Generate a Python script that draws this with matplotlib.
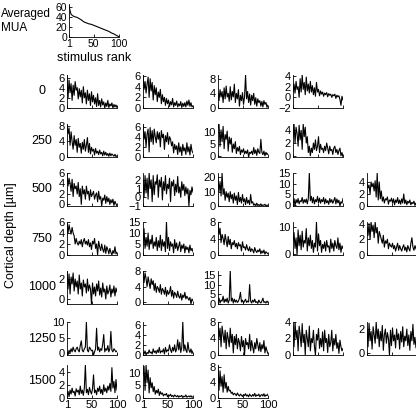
import numpy as np
import matplotlib
matplotlib.use("Agg")
import matplotlib.pyplot as plt

plt.rcParams['font.family'] = ['Liberation Sans', 'DejaVu Sans']

# averaged MUA vs stimulus rank
avg_rank = [1, 3, 5, 8, 12, 16, 20, 25, 30, 35, 40, 45, 50, 55, 60, 65, 70, 75, 80, 85, 90, 95, 100]
avg_mua = [62, 52, 45, 42, 40, 39, 37, 34, 30, 28, 26, 25, 23, 21, 19, 17, 15, 13, 11, 8, 6, 3, 0.5]

depths = ["0", "250", "500", "750", "1000", "1250", "1500"]

# depth 0
d0_1 = [6.5,2.0,5.5,3.0,4.8,1.5,4.5,2.5,5.2,3.5,4.0,1.8,3.8,2.2,3.5,1.0,4.2,2.0,3.0,0.8,3.5,1.5,2.8,0.5,3.2,1.2,2.5,0.8,2.0,0.3,2.8,0.5,1.5,0.2,1.8,0.6,1.2,0.0,1.0,0.3,1.5,0.1,0.8,0.4,1.0,0.0,0.7,0.2,0.6,0.1]
d0_2 = [6.2,3.5,5.0,2.8,4.5,5.8,2.0,5.5,3.2,4.8,1.5,4.2,2.5,3.8,1.2,3.0,2.0,3.5,0.8,2.5,1.2,2.0,0.5,1.8,0.8,1.5,0.3,1.2,0.6,1.8,0.2,1.0,0.5,1.3,0.2,0.8,0.4,1.2,0.1,0.9,0.3,1.0,0.2,1.3,0.5,1.5,0.3,1.0,0.2,0.4]
d0_3 = [4.0,2.0,5.0,3.0,4.5,1.5,5.5,2.5,6.0,3.0,4.0,1.8,5.8,2.2,4.5,3.0,6.5,1.5,4.0,2.5,5.0,0.5,3.5,2.0,4.2,1.0,3.0,9.0,2.5,4.5,1.5,3.8,0.8,3.5,2.0,4.0,1.0,2.8,0.5,2.5,1.5,2.0,0.5,1.8,0.3,2.0,1.0,1.5,0.2,0.8]
d0_4 = [1.0,2.5,0.8,3.0,1.5,2.0,0.0,3.5,1.0,4.2,1.5,2.8,0.5,3.8,1.2,2.5,0.8,3.0,1.0,2.2,0.5,1.8,0.2,2.8,1.0,1.5,0.3,1.2,0.6,1.0,0.2,0.8,0.5,0.9,0.1,0.7,0.4,0.6,0.0,0.5,0.3,0.6,-0.2,0.4,0.1,0.3,-0.4,-1.5,0.2,-0.5]
# depth 250
d250_1 = [8.5,6.0,7.5,3.0,6.5,4.0,2.0,5.5,3.0,4.5,1.2,4.8,2.5,3.5,1.0,3.8,2.0,4.5,1.5,3.0,5.0,1.2,3.5,0.8,2.5,1.5,2.0,0.5,2.2,1.0,1.5,0.6,1.8,0.8,1.2,0.3,1.5,0.5,1.2,0.4,0.9,0.2,1.0,0.3,0.8,0.5,0.2,0.7,0.1,0.3]
d250_2 = [6.5,3.5,5.0,2.0,4.5,5.5,1.0,5.8,3.0,5.2,2.5,5.5,4.0,2.8,5.0,3.5,4.8,2.0,5.2,3.8,4.5,1.5,4.2,3.0,4.8,2.5,4.0,3.5,2.2,3.0,0.8,2.5,1.5,2.2,0.5,2.8,1.0,2.0,0.3,2.5,1.2,1.8,0.5,2.8,1.0,2.0,0.4,2.5,1.2,0.8]
d250_3 = [12.0,13.5,4.0,11.0,6.0,12.5,3.0,9.0,7.0,10.5,2.0,8.0,5.0,7.5,1.5,5.0,3.0,6.0,1.0,3.5,2.0,4.0,0.5,2.5,1.5,3.0,0.8,2.0,1.0,2.5,-0.5,1.5,1.0,2.0,0.5,3.5,1.0,2.5,0.2,3.0,1.5,1.0,7.0,1.5,0.5,2.0,0.0,1.5,0.5,1.0]
d250_4 = [3.0,5.0,2.0,4.5,3.5,1.5,4.8,2.5,4.0,1.0,5.0,3.0,4.5,2.0,3.0,0.5,1.5,0.0,1.2,0.5,2.0,1.0,2.5,0.8,1.5,3.0,0.5,1.8,1.0,1.2,0.5,1.5,0.8,2.0,1.2,0.3,1.5,0.8,1.0,0.2,1.2,1.5,0.5,1.0,0.2,0.8,1.2,0.0,0.5,-0.2]
# depth 500
d500_1 = [6.0,3.5,5.0,4.0,2.5,4.8,1.5,4.0,3.0,3.5,2.0,4.2,1.5,3.0,0.0,3.5,2.0,2.8,1.0,3.5,2.0,2.5,0.8,2.8,1.5,2.0,2.5,1.0,1.8,2.2,0.5,2.5,1.0,1.5,-0.3,1.2,0.8,1.8,0.2,1.5,0.5,1.2,0.0,0.9,0.3,1.0,-0.2,0.6,0.1,-0.3]
d500_2 = [2.0,0.0,2.5,0.5,2.2,-0.2,2.8,1.0,2.0,-0.5,2.5,0.3,1.8,1.5,2.6,0.0,2.0,1.2,2.3,-0.3,1.8,0.8,2.5,0.4,1.5,1.0,2.2,-0.5,1.8,1.3,2.0,0.2,1.5,0.6,2.4,0.5,1.2,0.0,1.8,0.8,1.5,0.2,1.2,0.4,1.0,-1.0,0.8,0.3,1.2,0.6]
d500_3 = [20.0,10.0,17.0,7.0,23.0,8.0,12.0,4.0,10.0,6.0,9.0,3.0,10.0,5.0,8.0,2.0,9.0,4.0,7.0,1.0,9.5,3.0,6.0,2.0,8.0,3.0,5.0,1.0,6.0,2.0,4.0,1.0,8.0,2.0,3.0,0.5,1.5,0.0,2.0,0.3,1.0,0.2,1.5,0.0,0.8,0.5,1.2,0.0,0.6,0.4]
d500_4 = [0.5,3.0,-0.5,2.5,1.0,3.0,0.5,2.0,1.5,3.5,0.8,2.5,1.2,2.8,0.5,3.0,15.0,2.0,4.0,1.0,3.5,0.5,2.5,1.5,4.0,1.0,3.2,0.8,2.5,1.5,3.5,0.5,2.8,1.0,2.0,0.3,3.0,1.2,2.5,0.8,2.0,3.5,0.5,2.8,1.0,2.2,-0.5,1.5,0.8,3.0]
d500_5 = [4.0,3.0,3.5,2.0,4.0,3.2,3.8,2.5,4.2,1.5,5.5,1.0,4.0,1.2,2.5,0.8,1.5,0.5,1.2,1.0,1.5,0.3,1.0,0.8,1.3,0.5,1.2,0.2,1.0,0.6,1.4,0.4,1.0,0.3,1.2,0.5,2.0,0.4,1.0,0.2,0.8,0.5,1.0,0.2,0.6,0.4,0.8,0.1,0.5,0.3]
# depth 750
d750_1 = [6.0,4.0,5.5,4.5,3.8,5.0,4.0,3.5,2.0,3.0,2.2,1.8,2.5,2.0,2.8,1.5,2.5,3.0,2.0,2.5,1.8,2.8,1.5,2.2,1.0,2.5,2.0,3.0,1.2,2.0,0.0,2.5,1.5,0.8,2.0,1.0,0.5,1.8,0.3,1.5,1.0,0.2,1.2,0.5,0.0,0.8,0.3,1.5,0.2,0.5]
d750_2 = [5.0,12.0,3.0,8.0,4.0,10.0,2.5,7.0,5.0,9.0,3.0,6.0,4.0,8.0,2.0,6.5,3.5,9.0,2.0,7.0,4.0,6.0,1.5,15.0,3.0,8.0,2.0,6.0,4.0,5.0,1.0,7.0,3.0,5.5,2.0,4.0,6.0,1.5,4.5,3.0,5.0,1.0,4.0,2.5,3.5,1.0,4.5,2.0,3.0,1.5]
d750_3 = [8.0,5.0,6.5,3.0,5.0,4.0,2.5,5.0,3.5,2.0,4.5,2.5,3.8,1.5,3.0,2.5,3.5,2.0,2.8,1.5,3.0,2.2,2.5,1.0,3.2,1.8,2.0,1.2,2.5,1.5,1.0,2.0,0.8,1.5,1.2,0.5,1.8,1.0,0.6,1.2,0.8,1.5,0.3,1.0,0.5,1.2,0.2,0.8,0.5,0.3]
d750_4 = [5.0,8.0,2.0,6.0,-0.5,9.0,3.0,7.0,1.5,8.5,2.5,5.0,4.0,9.5,1.0,6.0,3.0,7.0,2.0,5.0,0.5,4.0,2.5,12.0,1.0,7.5,3.0,5.0,0.5,3.5,2.0,4.5,1.0,5.0,2.5,3.0,0.5,5.5,2.0,4.0,1.0,5.0,3.0,2.0,6.0,1.5,4.0,0.5,3.0,2.0]
d750_5 = [3.5,2.5,4.0,2.0,4.2,3.0,3.8,2.2,4.2,2.8,3.5,1.5,3.0,2.5,2.0,1.5,2.5,1.0,1.8,1.5,2.0,0.8,1.5,1.2,1.0,1.5,0.8,1.2,0.5,1.0,1.5,0.6,1.2,0.8,0.5,1.0,1.3,0.6,1.0,0.4,1.2,0.8,0.5,1.5,2.2,1.0,0.6,1.2,0.8,0.5]
# depth 1000
d1000_1 = [2.8,1.0,2.5,0.5,2.2,1.5,2.6,0.8,2.0,1.2,1.8,0.5,2.4,1.0,1.6,0.3,1.9,1.2,1.5,0.6,2.0,0.8,1.4,1.0,-0.5,1.6,0.5,1.2,0.3,1.5,0.8,1.8,0.4,1.1,0.2,1.6,0.7,1.0,0.0,1.3,0.5,0.8,1.4,0.2,1.0,0.6,1.3,0.3,1.1,0.7]
d1000_2 = [8.0,5.0,7.5,6.0,4.0,6.5,5.0,3.5,6.0,4.5,5.5,3.0,4.8,2.5,4.0,3.5,2.5,4.5,2.0,3.5,3.0,2.0,3.8,1.5,3.0,2.0,2.5,4.0,1.5,3.0,1.0,2.5,2.0,1.2,2.8,1.5,1.0,2.2,0.5,1.8,1.2,2.5,0.8,1.5,1.0,0.5,1.2,-0.5,0.8,0.3]
d1000_3 = [1.0,3.0,0.5,2.0,1.5,4.0,0.8,2.5,1.2,3.0,0.5,2.0,17.0,1.5,3.0,0.5,2.5,1.0,2.0,0.8,1.5,3.0,6.0,1.0,2.0,0.5,1.5,2.5,0.8,1.5,1.0,10.0,1.5,0.5,2.0,1.0,2.5,0.8,1.2,0.3,2.0,1.0,0.5,1.5,3.0,0.8,1.2,0.5,1.5,0.8]
# depth 1250
d1250_1 = [0.5,-0.5,1.0,0.2,1.5,0.5,2.0,1.0,0.5,1.5,2.0,1.0,0.5,2.5,4.0,1.0,0.5,1.5,2.0,10.0,1.0,0.5,2.0,1.5,0.8,1.0,-0.5,0.5,1.5,8.0,1.0,2.0,0.5,1.5,1.0,3.0,6.0,0.5,1.5,1.0,2.5,0.5,1.5,7.0,1.0,0.5,1.5,1.0,0.5,0.8]
d1250_2 = [0.5,0.2,0.8,0.0,0.5,0.3,1.0,0.4,0.6,0.2,1.2,0.5,0.8,0.3,1.0,0.5,1.5,0.4,0.8,0.6,1.2,0.2,1.5,0.6,1.0,0.8,2.0,1.0,0.5,1.5,0.8,2.0,0.6,1.2,3.0,1.0,2.5,0.5,1.5,6.5,0.8,2.0,1.0,0.5,2.5,1.0,0.5,1.2,0.3,0.8]
d1250_3 = [8.0,4.0,6.5,2.0,7.0,5.0,3.0,6.0,1.5,5.5,4.0,2.0,6.5,3.0,5.0,0.5,4.5,2.5,5.0,1.5,4.0,3.0,1.0,4.5,2.0,3.5,0.0,4.0,2.5,3.0,1.5,5.0,1.0,3.5,2.0,0.5,3.0,1.5,4.0,2.5,1.0,3.0,0.8,2.5,1.5,3.5,0.5,2.0,1.0,0.3]
d1250_4 = [3.5,1.0,4.0,2.0,3.0,0.5,3.5,2.5,1.0,3.8,1.5,2.5,0.0,3.0,2.0,1.0,3.5,0.5,2.0,1.5,3.0,1.0,0.0,2.5,1.8,3.2,0.8,2.0,1.0,2.8,0.5,3.0,1.5,2.0,0.3,2.5,1.0,1.5,3.0,0.5,2.0,1.2,2.5,0.8,1.5,0.2,1.8,1.0,0.5,0.8]
d1250_5 = [2.0,0.5,2.5,1.0,1.8,0.3,2.2,1.5,0.8,2.6,1.2,2.0,0.5,1.8,1.0,2.3,0.2,1.5,2.0,0.8,1.7,1.2,-0.2,1.9,0.6,2.1,1.0,1.5,0.4,2.0,1.1,1.6,0.3,1.8,0.9,2.2,0.5,1.4,1.0,2.0,0.6,1.5,0.2,1.8,1.0,2.4,0.7,1.3,0.4,1.0]
# depth 1500
d1500_1 = [0.5,1.0,0.2,1.2,0.6,1.5,0.8,1.0,0.3,1.4,0.9,1.2,0.5,1.8,0.7,1.2,0.4,1.5,5.0,0.8,1.3,0.5,1.6,1.0,0.6,1.4,3.5,0.8,1.2,0.5,1.5,1.0,1.8,0.7,1.3,0.5,2.0,1.0,1.5,0.8,1.8,1.2,2.2,1.0,4.6,1.5,2.5,0.8,2.8,1.2]
d1500_2 = [9.0,12.5,3.0,13.0,6.0,11.0,2.0,8.0,4.0,6.0,2.5,4.5,1.5,3.0,2.0,3.5,1.0,2.5,1.5,2.0,0.8,1.5,1.2,1.8,0.5,1.2,0.8,1.5,0.6,1.0,0.4,1.2,0.8,0.5,1.0,0.3,0.8,0.6,1.0,0.2,0.7,0.5,1.2,0.3,0.6,0.8,0.4,0.9,0.3,0.5]
d1500_3 = [8.5,2.0,7.0,3.0,5.5,1.5,6.0,2.5,4.0,1.5,3.0,1.8,2.0,1.2,1.5,0.8,1.2,1.0,0.6,1.3,0.8,0.5,1.0,0.7,0.4,0.9,0.6,1.1,0.5,0.8,0.3,1.0,0.6,0.4,0.9,0.5,1.2,0.4,0.8,0.6,1.0,0.3,0.7,0.9,0.5,1.1,0.4,0.8,0.6,1.0]

# (row, column, series, y ticks)
panels = [
    (0, 0, d0_1, [0, 2, 4, 6]), (0, 1, d0_2, [0, 2, 4, 6]), (0, 2, d0_3, [0, 4, 8]), (0, 3, d0_4, [-2, 0, 2, 4]),
    (1, 0, d250_1, [0, 4, 8]), (1, 1, d250_2, [0, 2, 4, 6]), (1, 2, d250_3, [0, 5, 10]), (1, 3, d250_4, [0, 2, 4]),
    (2, 0, d500_1, [0, 2, 4, 6]), (2, 1, d500_2, [-1, 0, 1, 2]), (2, 2, d500_3, [0, 10, 20]),
    (2, 3, d500_4, [0, 5, 10, 15]), (2, 4, d500_5, [0, 2, 4]),
    (3, 0, d750_1, [0, 2, 4, 6]), (3, 1, d750_2, [0, 5, 10, 15]), (3, 2, d750_3, [0, 4, 8]),
    (3, 3, d750_4, [0, 10]), (3, 4, d750_5, [0, 2, 4]),
    (4, 0, d1000_1, [0, 2]), (4, 1, d1000_2, [0, 4, 8]), (4, 2, d1000_3, [0, 5, 10, 15]),
    (5, 0, d1250_1, [0, 5, 10]), (5, 1, d1250_2, [0, 2, 4, 6]), (5, 2, d1250_3, [0, 4, 8]),
    (5, 3, d1250_4, [0, 2, 4]), (5, 4, d1250_5, [0, 2]),
    (6, 0, d1500_1, [0, 2, 4]), (6, 1, d1500_2, [0, 5, 10]), (6, 2, d1500_3, [0, 4, 8]),
]

W = H = 416.0
col_left = [67, 143, 218, 293, 367]
row_bottom = [108, 157, 206, 255, 304, 355, 398]
aw, ah = 50, 33

fig = plt.figure(figsize=(4.16, 4.16), dpi=100)


def style(ax, labels, size=8):
    for s in ("top", "right"):
        ax.spines[s].set_visible(False)
    ax.spines["left"].set_linewidth(0.6)
    ax.spines["bottom"].set_linewidth(0.6)
    ax.tick_params(direction="in", length=2, width=0.6, labelsize=size, pad=1.5)
    ax.set_xlim(1, 100)
    ax.set_xticks([1, 50, 100])
    if not labels:
        ax.set_xticklabels([])


def add_ax(x0, y_bottom):
    return fig.add_axes([x0 / W, 1 - y_bottom / H, aw / W, ah / H])


# top averaged panel
ax = add_ax(69, 37)
ax.plot(avg_rank, avg_mua, color="black", lw=0.8)
style(ax, True, size=7.5)
ax.set_ylim(0, 65)
ax.set_yticks([0, 20, 40, 60])
ax.set_xlabel("stimulus rank", fontsize=9, labelpad=2)
fig.text(1 / W, 1 - 21 / H, "Averaged\nMUA", fontsize=8.5, va="center", ha="left", linespacing=1.2)

for r, c, vals, yt in panels:
    vals = np.array(vals)
    x = np.linspace(1, 100, len(vals))
    ax = add_ax(col_left[c], row_bottom[r])
    ax.plot(x, vals, color="black", lw=0.8)
    style(ax, r == 6)
    ax.set_ylim(vals.min(), vals.max())
    ax.set_yticks(yt)

for r, d in enumerate(depths):
    yc = row_bottom[r] - ah / 2
    fig.text(42 / W, 1 - yc / H, d, fontsize=9, ha="center", va="center")

fig.text(11 / W, 1 - 235 / H, "Cortical depth [\u00b5m]", fontsize=9, rotation=90,
         ha="center", va="center")

fig.savefig("out.png", dpi=100)
